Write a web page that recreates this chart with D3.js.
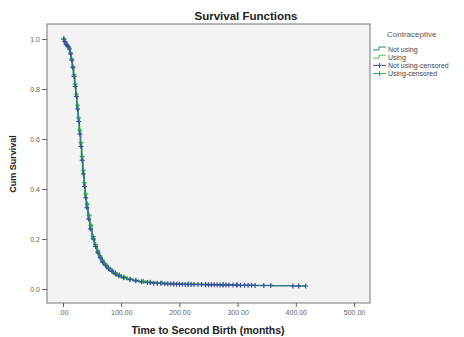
<!DOCTYPE html>
<html>
<head>
<meta charset="utf-8">
<script src="https://cdn.jsdelivr.net/npm/d3@7"></script>
<style>
  html, body { margin: 0; padding: 0; background: #fff; }
  text { font-family: 'Liberation Sans', Arial, sans-serif; }
</style>
</head>
<body>
<div id="canvas"></div>
<script>
'use strict';

// Kaplan-Meier steps (months, cumulative survival).
const notUsingTime = [0, 2, 4, 6, 8, 10, 12, 14, 16, 18, 20, 22, 24, 26, 28,
  30, 32, 34, 36, 38, 40, 43, 46, 50, 54, 58, 62, 66, 70, 75, 80, 86, 92, 100,
  110, 120, 130, 140, 155, 170, 190, 210, 240, 270, 300, 330, 360, 395];
const notUsingSurv = [1.0, 0.99, 0.98, 0.975, 0.97, 0.96, 0.94, 0.915, 0.885,
  0.85, 0.81, 0.77, 0.72, 0.67, 0.62, 0.57, 0.515, 0.46, 0.41, 0.365, 0.325,
  0.28, 0.24, 0.2, 0.17, 0.145, 0.125, 0.108, 0.095, 0.082, 0.071, 0.061,
  0.053, 0.045, 0.038, 0.033, 0.029, 0.026, 0.023, 0.021, 0.019, 0.018, 0.017,
  0.016, 0.015, 0.014, 0.013, 0.012];
const usingTime = [0, 3, 6, 9, 12, 14, 16, 18, 20, 22, 24, 26, 28, 30, 32, 34,
  36, 38, 40, 43, 46, 50, 54, 58, 62, 66, 70, 75, 80, 86, 92, 100, 110, 120,
  130, 145, 160, 180, 200, 230, 260, 290];
const usingSurv = [1.0, 0.985, 0.975, 0.965, 0.945, 0.92, 0.89, 0.857, 0.82,
  0.78, 0.735, 0.685, 0.635, 0.585, 0.53, 0.475, 0.425, 0.38, 0.34, 0.295,
  0.255, 0.21, 0.178, 0.152, 0.132, 0.115, 0.1, 0.087, 0.075, 0.065, 0.056,
  0.048, 0.04, 0.035, 0.031, 0.027, 0.024, 0.022, 0.02, 0.019, 0.018, 0.017];
// Censored observation times.
const notUsingCens = [1, 3, 5, 7, 9, 11, 13, 15, 17, 19, 21, 23, 25, 27, 29,
  31, 33, 35, 37, 39, 41, 44, 47, 52, 56, 60, 64, 68, 73, 78, 84, 90, 96, 104,
  115, 125, 135, 145, 150, 156, 162, 168, 175, 180, 185, 190, 195, 200, 205,
  210, 215, 220, 225, 232, 238, 245, 250, 255, 260, 265, 270, 275, 280, 285,
  292, 298, 305, 312, 318, 324, 330, 345, 357, 395, 405, 417];
const usingCens = [2, 4, 7, 10, 13, 15, 17, 19, 21, 23, 25, 27, 29, 31, 33, 35,
  37, 39, 42, 45, 48, 52, 56, 60, 64, 68, 72, 78, 84, 90, 97, 105, 115, 125,
  138, 150, 170, 190, 215, 245, 275, 300];

const xTicks = [0, 100, 200, 300, 400, 500];
const xTickLabels = ['.00', '100.00', '200.00', '300.00', '400.00', '500.00'];
const yTicks = [0, 0.2, 0.4, 0.6, 0.8, 1.0];
const legendLabels = ['Not using', 'Using', 'Not using-censored',
  'Using-censored'];

const width = 464;
const height = 337;
const frame = {left: 47, top: 24, right: 370, bottom: 303};

// Line and censor-mark colours per group.
const lineNotUsing = '#2a8378';
const lineUsing = '#5cc24e';
const markNotUsing = '#3b4fa3';
const markUsing = '#2fa84f';

const svg = d3.select('#canvas').append('svg')
    .attr('width', width)
    .attr('height', height);

svg.append('rect')
    .attr('x', frame.left)
    .attr('y', frame.top)
    .attr('width', frame.right - frame.left)
    .attr('height', frame.bottom - frame.top)
    .attr('fill', '#f3f3f3')
    .attr('stroke', '#8a8a8a')
    .attr('stroke-width', 1.2);

const x = d3.scaleLinear().domain([0, 500]).range([63, 354]);
const y = d3.scaleLinear().domain([0, 1]).range([289, 39]);

// Axes sit on the frame edges, ticks pointing outwards.
const xAxis = svg.append('g')
    .attr('transform', `translate(0, ${frame.bottom})`)
    .call(d3.axisBottom(x).tickValues(xTicks).tickSize(4).tickPadding(3)
        .tickFormat((d, i) => xTickLabels[i]));
const yAxis = svg.append('g')
    .attr('transform', `translate(${frame.left}, 0)`)
    .call(d3.axisLeft(y).tickValues(yTicks).tickSize(5).tickPadding(2)
        .tickFormat(d3.format('.1f')));
[xAxis, yAxis].forEach((axis) => {
  axis.select('.domain').remove();
  axis.selectAll('.tick line').attr('stroke', '#666');
  axis.selectAll('.tick text')
      .attr('fill', '#666')
      .style('font-size', '7px')
      .style('font-family', "'Liberation Sans', Arial, sans-serif");
});

/**
 * Survival value of the step function at time t.
 * @param {!Array<number>} times
 * @param {!Array<number>} surv
 * @param {number} t
 * @return {number}
 */
function stepValue(times, surv, t) {
  const i = d3.bisectRight(times, t) - 1;
  return surv[Math.max(0, i)];
}

const groups = [
  {times: usingTime, surv: usingSurv, cens: usingCens,
    line: lineUsing, mark: markUsing},
  {times: notUsingTime, surv: notUsingSurv, cens: notUsingCens,
    line: lineNotUsing, mark: markNotUsing},
];

const line = d3.line()
    .x(d => x(d[0]))
    .y(d => y(d[1]))
    .curve(d3.curveStepAfter);

groups.forEach(({times, surv, cens, line: lineColor, mark}) => {
  const pts = times.map((t, i) => [t, surv[i]]);
  const last = d3.max(cens);
  pts.push([last, surv[surv.length - 1]]);
  svg.append('path')
      .datum(pts)
      .attr('d', line)
      .attr('fill', 'none')
      .attr('stroke', lineColor)
      .attr('stroke-width', 1.6);

  const marks = svg.append('g');
  cens.forEach((t) => {
    const cx = x(t);
    const cy = y(stepValue(times, surv, t));
    marks.append('path')
        .attr('d', `M${cx - 2.5},${cy}H${cx + 2.5}M${cx},${cy - 2.5}V${cy + 2.5}`)
        .attr('stroke', mark)
        .attr('stroke-width', 1.2);
  });
});

// Titles.
svg.append('text')
    .attr('x', 246)
    .attr('y', 20)
    .attr('text-anchor', 'middle')
    .attr('font-weight', 'bold')
    .attr('font-size', 11.5)
    .attr('fill', '#222')
    .text('Survival Functions');

svg.append('text')
    .attr('x', 208)
    .attr('y', 334)
    .attr('text-anchor', 'middle')
    .attr('font-weight', 'bold')
    .attr('font-size', 10.5)
    .attr('fill', '#222')
    .text('Time to Second Birth (months)');

svg.append('text')
    .attr('transform', 'translate(16, 164) rotate(-90)')
    .attr('text-anchor', 'middle')
    .attr('font-weight', 'bold')
    .attr('font-size', 9)
    .attr('fill', '#222')
    .text('Cum Survival');

// Legend.
const legend = svg.append('g');
legend.append('text')
    .attr('x', 387)
    .attr('y', 37)
    .attr('font-size', 8)
    .attr('fill', '#555')
    .text('Contraceptive');

const legendColors = [lineNotUsing, lineUsing, markNotUsing, markUsing];
legendLabels.forEach((label, i) => {
  const ly = 49 + i * 8.2;
  const color = legendColors[i];
  if (i < 2) {
    legend.append('path')
        .attr('d', `M373,${ly + 1}H379V${ly - 2}H386`)
        .attr('fill', 'none')
        .attr('stroke', color)
        .attr('stroke-width', 1);
  } else {
    legend.append('path')
        .attr('d', `M373,${ly}H386M379.5,${ly - 2.5}V${ly + 2.5}`)
        .attr('stroke', color)
        .attr('stroke-width', 1);
  }
  legend.append('text')
      .attr('x', 388)
      .attr('y', ly + 2.5)
      .attr('font-size', 7)
      .attr('fill', '#444')
      .text(label);
});
</script>
</body>
</html>
